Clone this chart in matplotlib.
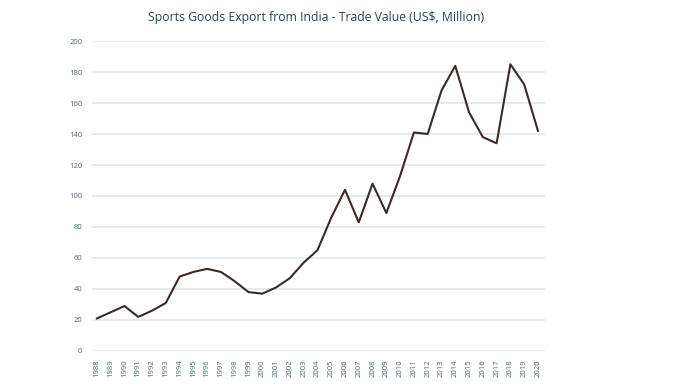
import matplotlib as mpl
mpl.use('Agg')
import matplotlib.pyplot as plt

# Sports goods export from India, trade value in US$ million
years = list(range(1988, 2021))
values = [21, 25, 29, 22, 26, 31, 48, 51, 53, 51, 45, 38, 37, 41, 47, 57,
          65, 86, 104, 83, 108, 89, 113, 141, 140, 168, 184, 154, 138, 134,
          185, 172, 142]
y_ticks = [0, 20, 40, 60, 80, 100, 120, 140, 160, 180, 200]

plt.rcParams['font.family'] = ['Open Sans', 'DejaVu Sans']

fig = plt.figure(figsize=(6.76, 3.92), dpi=100)
graph = fig.add_axes([0.136, 0.1046, 0.670, 0.7908])

pos = list(range(len(years)))
graph.plot(pos, values, color='#3b2a26', linewidth=1.5)

graph.set_ylim(0, 200)
graph.set_xlim(-0.36, len(years) - 0.5)
graph.set_yticks(y_ticks)
graph.set_xticks(pos)
graph.set_xticklabels([str(y) for y in years], rotation=90)

graph.grid(axis='y', color='#dce4e8', linewidth=1.1)
graph.set_axisbelow(True)
for s in graph.spines.values():
  s.set_visible(False)
graph.tick_params(axis='both', length=0, labelsize=5.5, colors='#46687a')
graph.tick_params(axis='y', pad=7)
graph.tick_params(axis='x', pad=6)

fig.text(0.468, 0.955, "Sports Goods Export from India - Trade Value (US\\$, Million)",
         ha='center', va='center', fontsize=8.8, color='#234556',
         fontweight='medium')

plt.savefig("out.png", format="png", dpi=100)
